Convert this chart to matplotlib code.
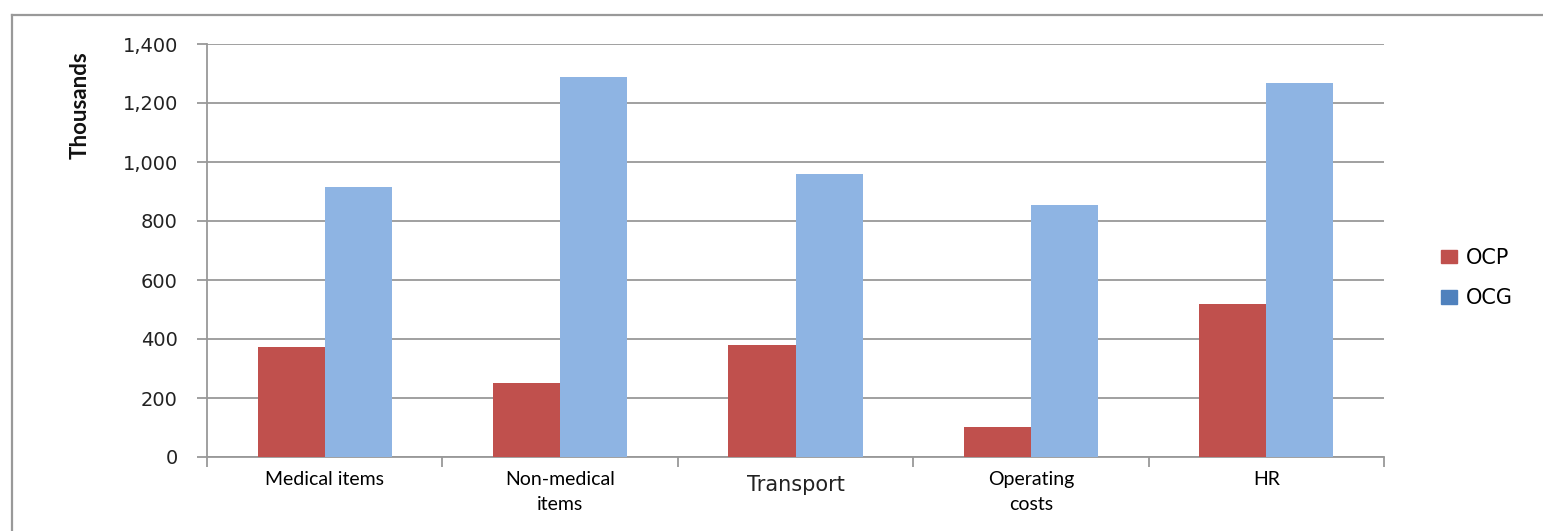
import matplotlib
matplotlib.use("Agg")
import matplotlib.pyplot as plt
import numpy as np
from matplotlib.patches import Patch
from matplotlib.lines import Line2D

categories = ["Medical items", "Non-medical\nitems", "Transport", "Operating\ncosts", "HR"]
ocp = [373, 251, 380, 102, 519]
ocg = [915, 1288, 959, 854, 1268]
series_names = ["OCP", "OCG"]
yticks = [0, 200, 400, 600, 800, 1000, 1200, 1400]

W, H = 1543, 531
fig = plt.figure(figsize=(W / 100, H / 100), dpi=100)
ax = fig.add_axes([207 / W, 1 - 457 / H, (1384 - 207) / W, (457 - 44) / H])

x = np.arange(len(categories))
bw = 0.285
ax.bar(x - bw / 2, ocp, bw, color="#C0504D", zorder=3)
ax.bar(x + bw / 2, ocg, bw, color="#8EB4E3", zorder=3)

ax.set_xlim(-0.5, len(categories) - 0.5)
ax.set_ylim(0, 1400)
ax.set_yticks(yticks)
ax.set_yticklabels([f"{v:,}" for v in yticks], fontfamily="DejaVu Sans", fontsize=14, color="#222222")
ax.tick_params(axis="y", length=7, width=1.3, color="#999999", pad=14)
ax.yaxis.grid(True, color="#999999", linewidth=1.3, zorder=0)

# category boundary ticks
ax.set_xticks(np.arange(-0.5, len(categories)), minor=False)
ax.set_xticklabels([])
ax.tick_params(axis="x", length=7, width=1.3, color="#999999", direction="out")

for i, lab in enumerate(categories):
    if lab == "Transport":
        ax.text(i, -0.043, lab, transform=ax.get_xaxis_transform(), ha="center", va="top",
                fontfamily="DejaVu Sans", fontsize=15, color="#222222")
    else:
        ax.text(i, -0.035, lab, transform=ax.get_xaxis_transform(), ha="center", va="top",
                fontfamily="Lato", fontsize=14, color="#000000", linespacing=1.55)

for s in ["top", "right"]:
    ax.spines[s].set_visible(False)
ax.spines["left"].set_color("#999999")
ax.spines["left"].set_linewidth(1.3)
ax.spines["bottom"].set_color("#999999")
ax.spines["bottom"].set_linewidth(1.3)

fig.text(80 / W, 1 - 105 / H, "Thousands", rotation=90, ha="center", va="center",
         fontfamily="Lato", fontweight="bold", fontsize=16, color="#111111")

handles = [Patch(color="#C0504D", label=series_names[0]),
           Patch(color="#4F81BD", label=series_names[1])]
fig.legend(handles=handles, loc="center left", bbox_to_anchor=(1422 / W, 1 - 278 / H),
           frameon=False, prop={"family": "DejaVu Sans", "size": 15}, handlelength=0.8,
           handleheight=0.6, labelspacing=1.0, handletextpad=0.4)

# outer frame (left and top)
fig.add_artist(Line2D([12 / W, 12 / W], [0, 1 - 15 / H], transform=fig.transFigure, color="#999999", lw=1.6))
fig.add_artist(Line2D([12 / W, 1], [1 - 15 / H, 1 - 15 / H], transform=fig.transFigure, color="#999999", lw=1.6))

fig.savefig("out.png", dpi=100)
